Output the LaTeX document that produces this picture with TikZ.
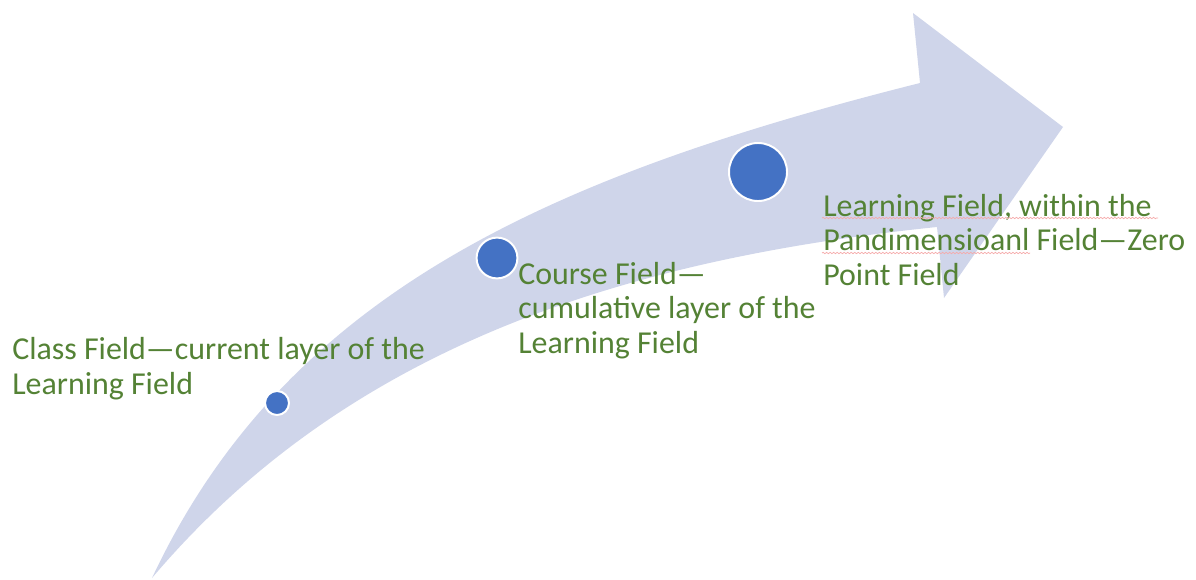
\documentclass[tikz,border=0pt]{standalone}
\usepackage{fontspec}
\setmainfont{Carlito}
\usepackage{xcolor}
\usepackage{tikz}
\usetikzlibrary{decorations.pathmorphing}

\definecolor{bandfill}{RGB}{207,213,234}
\definecolor{dotblue}{RGB}{68,114,196}
\definecolor{labelgreen}{RGB}{84,130,53}
\definecolor{spellred}{RGB}{245,170,170}

\begin{document}
\begin{tikzpicture}[x=0.025cm, y=-0.025cm,
    font=\fontsize{22.7}{24.5}\selectfont,
    dot/.style={circle, fill=dotblue, draw=white, line width=1.4pt, inner sep=0pt},
    fieldlabel/.style={anchor=base west, align=left, inner sep=0pt, text=labelgreen},
    squiggle/.style={spellred, line width=0.5pt, decorate,
      decoration={snake, amplitude=0.5pt, segment length=2.5pt}}]
  \useasboundingbox (0,0) rectangle (1196,579);
  % curved band with its head
  \fill[bandfill] (152,578) .. controls (285,295) and (546,177) .. (920,83)
    -- (913,13) -- (1063,127) -- (944,298) -- (937,227)
    .. controls (616,260) and (344.5,350.5) .. (152,578) -- cycle;
  % the three fields
  \node[dot, minimum size=0.6cm]   (classdot)  at (277,403) {};
  \node[dot, minimum size=1.02cm]  (coursedot) at (497,258) {};
  \node[dot, minimum size=1.45cm]  (learndot)  at (758,172) {};
  \node[fieldlabel] (classtxt) at (12,394) {Class Field—current layer of the\\Learning Field};
  \node[fieldlabel] (coursetxt) at (518,353) {Course Field—\\cumulative layer of the\\Learning Field};
  \node[fieldlabel] (learntxt) at (823,285) {Learning Field, within the\\Pandimensioanl Field—Zero\\Point Field};
  % spell-check marks
  \draw[squiggle] (822,218) -- (1158,218);
  \draw[squiggle] (822,253) -- (1030,253);
\end{tikzpicture}
\end{document}
